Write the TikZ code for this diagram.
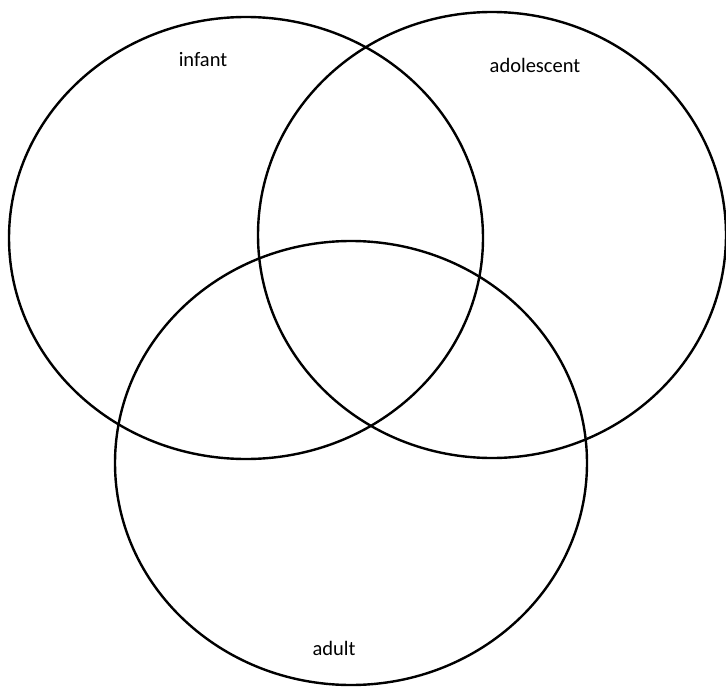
\documentclass[tikz,border=0pt]{standalone}
\usepackage{fontspec}
\setmainfont{Carlito}
\usepackage{tikz}

\begin{document}
\begin{tikzpicture}[x=1pt, y=-1pt, line width=2.4pt]

\useasboundingbox (0, 0) rectangle (726, 688);

\draw (246, 238) ellipse (237 and 221);
\draw (492, 235) ellipse (234 and 223);
\draw (351, 463) ellipse (236 and 222);

\node[anchor=base, inner sep=0pt] (infant) at (203, 66) {\fontsize{20.5}{24}\selectfont infant};
\node[anchor=base, inner sep=0pt] (adolescent) at (535, 72) {\fontsize{20.5}{24}\selectfont adolescent};
\node[anchor=base, inner sep=0pt] (adult) at (334, 655) {\fontsize{20.5}{24}\selectfont adult};
\end{tikzpicture}
\end{document}
